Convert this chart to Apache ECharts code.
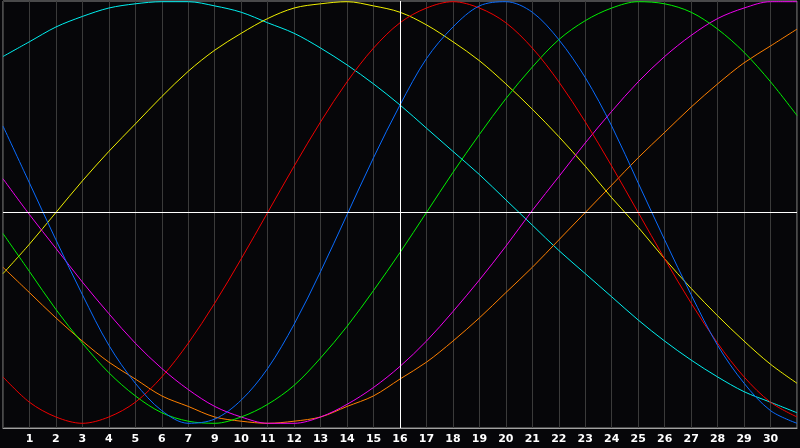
<!DOCTYPE html>
<html>
<head>
<meta charset="utf-8">
<script src="https://cdn.jsdelivr.net/npm/echarts@6/dist/echarts.min.js"></script>
<style>
html,body{margin:0;padding:0;background:#060609;}
#c{width:800px;height:448px;}
</style>
</head>
<body>
<div id="c"></div>
<script>
// grid positions 0..30 (one per vertical grid line)
const positions = [0,1,2,3,4,5,6,7,8,9,10,11,12,13,14,15,16,17,18,19,20,21,22,23,24,25,26,27,28,29,30];
// tick labels shown under each grid line (the reference skips "8")
const tickLabels = ['', '1','2','3','4','5','6','7','9','10','11','12','13','14','15','16','17','18','19','20','21','22','23','24','25','26','27','28','29','30',''];

const blue = [0.41,0.14,-0.13,-0.39,-0.63,-0.81,-0.94,-1.00,-0.98,-0.89,-0.74,-0.53,-0.28,-0.01,0.26,0.51,0.73,0.88,0.98,1.00,0.95,0.82,0.64,0.41,0.14,-0.13,-0.39,-0.63,-0.81,-0.94,-1.00];
const red = [-0.78,-0.90,-0.97,-1.00,-0.97,-0.90,-0.78,-0.62,-0.43,-0.22,0.00,0.22,0.43,0.62,0.78,0.90,0.97,1.00,0.97,0.90,0.78,0.62,0.43,0.22,0.00,-0.22,-0.43,-0.62,-0.78,-0.90,-0.97];
const green = [-0.10,-0.28,-0.46,-0.62,-0.76,-0.87,-0.95,-0.99,-1.00,-0.97,-0.91,-0.82,-0.69,-0.54,-0.37,-0.19,0.00,0.19,0.37,0.54,0.69,0.82,0.91,0.97,1.00,0.99,0.95,0.87,0.76,0.62,0.46];
const magenta = [0.16,-0.01,-0.17,-0.33,-0.48,-0.62,-0.74,-0.84,-0.92,-0.97,-1.00,-1.00,-0.97,-0.91,-0.83,-0.73,-0.61,-0.47,-0.32,-0.16,0.01,0.17,0.33,0.48,0.62,0.74,0.84,0.92,0.97,1.00,1.00];
const yellow = [-0.29,-0.15,0.00,0.15,0.29,0.42,0.55,0.67,0.77,0.85,0.92,0.97,0.99,1.00,0.98,0.95,0.89,0.81,0.72,0.61,0.49,0.36,0.22,0.07,-0.07,-0.22,-0.36,-0.49,-0.61,-0.72,-0.81];
const orange = [-0.26,-0.38,-0.50,-0.61,-0.71,-0.79,-0.87,-0.92,-0.97,-0.99,-1.00,-0.99,-0.97,-0.92,-0.87,-0.79,-0.71,-0.61,-0.50,-0.38,-0.26,-0.13,0.00,0.13,0.26,0.38,0.50,0.61,0.71,0.79,0.87];
const cyan = [0.74,0.81,0.88,0.93,0.97,0.99,1.00,1.00,0.98,0.95,0.90,0.85,0.78,0.70,0.61,0.51,0.40,0.29,0.18,0.06,-0.06,-0.18,-0.29,-0.40,-0.51,-0.61,-0.70,-0.78,-0.85,-0.90,-0.95];

const seriesDefs = [
  {name:'cyan', values:cyan, color:'#00f0f0'},
  {name:'orange', values:orange, color:'#ff8000'},
  {name:'yellow', values:yellow, color:'#f0f000'},
  {name:'magenta', values:magenta, color:'#f000f0'},
  {name:'green', values:green, color:'#00f000'},
  {name:'red', values:red, color:'#f00000'},
  {name:'blue', values:blue, color:'#0a6cff'}
];

const chart = echarts.init(document.getElementById('c'), null, {renderer:'canvas'});
const series = seriesDefs.map(s => ({
  name: s.name,
  type: 'line',
  data: positions.map((p,i) => [p, s.values[i]]),
  smooth: 0.33,
  showSymbol: false,
  symbol: 'none',
  silent: true,
  lineStyle: {color: s.color, width: 1},
  z: 3
}));
series.push({
  type: 'line',
  data: [],
  silent: true,
  z: 5,
  markLine: {
    silent: true,
    symbol: 'none',
    label: {show: false},
    animation: false,
    lineStyle: {color: '#ffffff', width: 1, type: 'solid'},
    data: [{xAxis: 15}, {yAxis: 0}]
  }
});

chart.setOption({
  animation: false,
  backgroundColor: '#060609',
  grid: {left: 1, right: 1, top: 1, bottom: 20, show: true, borderColor: '#8c8c8c', borderWidth: 1, backgroundColor: 'transparent'},
  xAxis: {
    type: 'value', min: 0, max: 30, interval: 1,
    axisLine: {show: true, onZero: false, lineStyle: {color: '#a0a0a0', width: 1}},
    axisTick: {show: false},
    splitLine: {show: true, lineStyle: {color: '#3a3a3a', width: 1}},
    axisLabel: {
      color: '#ffffff', fontWeight: 'bold', fontSize: 11, fontFamily: 'DejaVu Sans',
      margin: 6, showMinLabel: true, showMaxLabel: true,
      formatter: v => tickLabels[Math.round(v)] || ''
    }
  },
  yAxis: {
    type: 'value', min: -1.0223, max: 1.0033,
    axisLine: {show: false}, axisTick: {show: false}, axisLabel: {show: false},
    splitLine: {show: false}
  },
  series: series
});
</script>
</body>
</html>
